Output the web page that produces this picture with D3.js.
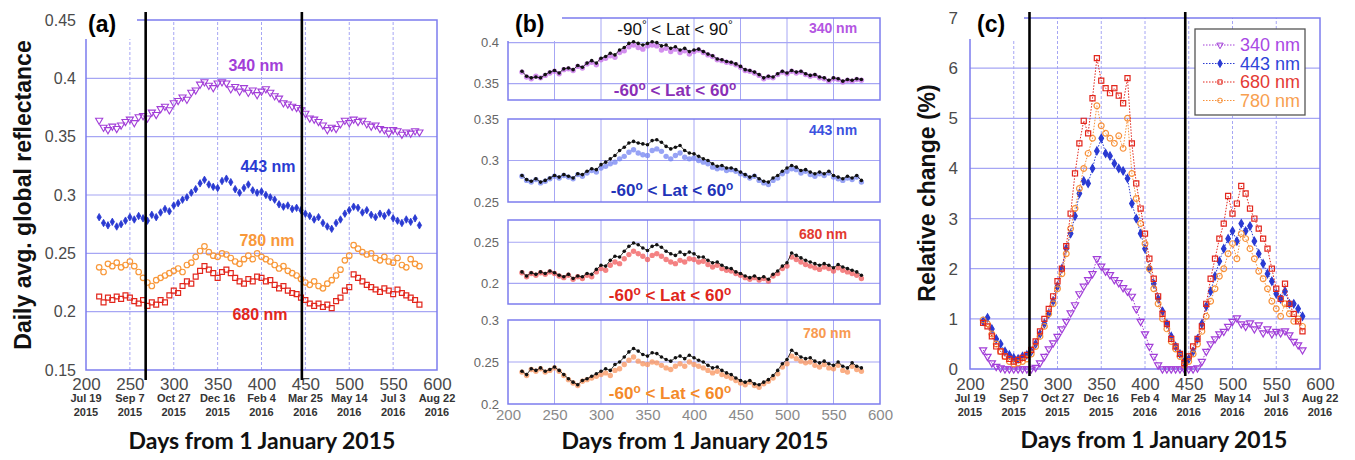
<!DOCTYPE html>
<html><head><meta charset="utf-8">
<script src="https://cdn.jsdelivr.net/npm/d3@7"></script>
<style>body{margin:0;background:#fff}svg{display:block}</style>
</head><body><svg id="c" width="1355" height="460"></svg>
<script>
// ---------------- DATA ----------------
const days = [215,220,225,230,235,240,245,250,255,260,265,270,275,280,285,290,295,300,305,310,315,320,325,330,335,340,345,350,355,360,365,370,375,380,385,390,395,400,405,410,415,420,425,430,435,440,445,450,455,460,465,470,475,480,485,490,495,500,505,510,515,520,525,530,535,540,545,550,555,560,565,570,575,580];

// Daily avg. global reflectance, -60 < Lat < 60
const refl340 = [0.364,0.358,0.356,0.359,0.357,0.360,0.363,0.365,0.362,0.367,
 0.368,0.366,0.371,0.369,0.374,0.376,0.373,0.379,0.381,0.384,
 0.382,0.388,0.390,0.395,0.397,0.394,0.392,0.396,0.397,0.396,
 0.391,0.393,0.389,0.392,0.388,0.390,0.386,0.389,0.391,0.388,
 0.385,0.383,0.379,0.378,0.376,0.375,0.373,0.370,0.366,0.365,
 0.363,0.360,0.356,0.358,0.357,0.361,0.364,0.362,0.365,0.363,
 0.364,0.361,0.359,0.360,0.357,0.356,0.353,0.356,0.355,0.352,
 0.354,0.353,0.355,0.354];
const refl443 = [0.281,0.276,0.274,0.277,0.273,0.275,0.278,0.281,0.279,0.282,
 0.280,0.278,0.283,0.281,0.285,0.288,0.286,0.291,0.293,0.296,
 0.298,0.302,0.305,0.310,0.313,0.309,0.307,0.306,0.312,0.314,
 0.311,0.305,0.302,0.306,0.309,0.304,0.302,0.303,0.300,0.298,
 0.296,0.292,0.290,0.291,0.288,0.289,0.287,0.284,0.282,0.279,
 0.281,0.276,0.273,0.271,0.276,0.279,0.284,0.287,0.290,0.289,
 0.285,0.287,0.283,0.281,0.284,0.282,0.285,0.280,0.278,0.276,
 0.279,0.277,0.280,0.274];
const refl680 = [0.213,0.208,0.212,0.210,0.213,0.211,0.214,0.212,0.209,0.207,
 0.210,0.205,0.208,0.206,0.210,0.208,0.214,0.218,0.216,0.222,
 0.226,0.224,0.230,0.235,0.239,0.236,0.233,0.229,0.234,0.236,
 0.233,0.229,0.226,0.224,0.228,0.226,0.230,0.229,0.226,0.227,
 0.223,0.220,0.222,0.218,0.216,0.215,0.212,0.210,0.207,0.205,
 0.207,0.204,0.206,0.203,0.209,0.212,0.218,0.221,0.232,0.229,
 0.226,0.223,0.221,0.219,0.217,0.220,0.218,0.215,0.219,0.216,
 0.214,0.212,0.210,0.206];
const refl780 = [0.238,0.234,0.241,0.239,0.242,0.238,0.240,0.243,0.239,0.234,
 0.229,0.225,0.222,0.227,0.229,0.231,0.233,0.235,0.237,0.234,
 0.240,0.242,0.247,0.252,0.256,0.251,0.248,0.247,0.250,0.249,
 0.246,0.243,0.241,0.245,0.248,0.245,0.250,0.247,0.245,0.243,
 0.240,0.237,0.239,0.235,0.233,0.231,0.228,0.225,0.223,0.226,
 0.222,0.220,0.224,0.227,0.231,0.236,0.244,0.248,0.257,0.254,
 0.251,0.249,0.250,0.246,0.244,0.247,0.243,0.242,0.246,0.240,
 0.238,0.245,0.241,0.239];

// Global (-90 < Lat < 90)
const glob340 = [0.365,0.359,0.357,0.358,0.357,0.361,0.364,0.366,0.363,0.368,
 0.369,0.367,0.372,0.370,0.375,0.378,0.375,0.381,0.383,0.387,
 0.385,0.391,0.394,0.399,0.401,0.399,0.397,0.399,0.401,0.400,
 0.396,0.397,0.393,0.395,0.391,0.393,0.389,0.391,0.392,0.389,
 0.386,0.384,0.380,0.379,0.377,0.376,0.374,0.371,0.367,0.366,
 0.364,0.361,0.357,0.359,0.358,0.362,0.365,0.363,0.366,0.364,
 0.365,0.362,0.360,0.361,0.358,0.357,0.354,0.357,0.356,0.353,
 0.355,0.354,0.356,0.355];
const glob443 = [0.282,0.277,0.275,0.278,0.274,0.276,0.279,0.282,0.280,0.283,
 0.281,0.279,0.284,0.283,0.287,0.290,0.289,0.295,0.298,0.302,
 0.306,0.312,0.316,0.321,0.323,0.321,0.320,0.319,0.324,0.325,
 0.322,0.317,0.314,0.316,0.318,0.312,0.309,0.308,0.305,0.302,
 0.300,0.296,0.293,0.294,0.291,0.291,0.289,0.286,0.283,0.280,
 0.282,0.278,0.275,0.274,0.279,0.282,0.287,0.291,0.294,0.292,
 0.288,0.289,0.286,0.284,0.286,0.284,0.287,0.282,0.280,0.278,
 0.281,0.279,0.282,0.276];
const glob680 = [0.214,0.209,0.213,0.211,0.214,0.212,0.215,0.213,0.210,0.208,
 0.211,0.206,0.209,0.208,0.212,0.211,0.217,0.222,0.221,0.228,
 0.233,0.232,0.239,0.245,0.249,0.247,0.243,0.240,0.245,0.247,
 0.244,0.239,0.236,0.234,0.238,0.235,0.238,0.236,0.232,0.232,
 0.228,0.225,0.226,0.222,0.219,0.218,0.214,0.212,0.209,0.207,
 0.209,0.206,0.208,0.205,0.211,0.215,0.221,0.225,0.237,0.234,
 0.231,0.228,0.226,0.224,0.222,0.224,0.222,0.219,0.223,0.220,
 0.218,0.216,0.214,0.210];
const glob780 = [0.239,0.235,0.242,0.240,0.243,0.239,0.241,0.244,0.240,0.235,
 0.230,0.226,0.223,0.228,0.230,0.233,0.236,0.239,0.242,0.240,
 0.247,0.250,0.256,0.262,0.266,0.263,0.259,0.257,0.261,0.260,
 0.256,0.253,0.251,0.255,0.257,0.254,0.258,0.255,0.252,0.250,
 0.246,0.243,0.244,0.240,0.237,0.235,0.231,0.228,0.226,0.228,
 0.224,0.223,0.226,0.229,0.234,0.240,0.248,0.253,0.264,0.260,
 0.256,0.254,0.255,0.251,0.249,0.251,0.248,0.246,0.250,0.245,
 0.243,0.249,0.245,0.243];

// Relative change (%)
const rel340 = [0.38,0.25,0.12,0.05,0.02,0.0,0.0,0.0,0.0,0.0,
 0.0,0.0,0.03,0.12,0.25,0.40,0.52,0.65,0.80,0.95,
 1.12,1.28,1.50,1.65,1.78,1.90,2.20,2.05,1.95,1.88,
 1.78,1.72,1.62,1.55,1.45,1.20,0.95,0.70,0.45,0.25,
 0.08,0.0,0.0,0.0,0.0,0.0,0.0,0.0,0.0,0.02,
 0.15,0.35,0.50,0.60,0.70,0.75,0.85,0.95,1.02,0.90,
 0.85,0.92,0.80,0.88,0.72,0.80,0.70,0.75,0.72,0.76,
 0.68,0.55,0.48,0.38];
const rel443 = [0.95,1.02,0.80,0.60,0.50,0.35,0.28,0.22,0.20,0.25,
 0.28,0.35,0.50,0.70,0.90,1.10,1.35,1.65,2.00,2.40,
 2.70,3.05,3.50,3.75,3.70,4.00,4.35,4.60,4.30,4.25,
 4.10,4.00,3.95,3.80,3.30,3.00,2.70,2.40,2.00,1.70,
 1.40,1.15,0.90,0.65,0.45,0.30,0.15,0.20,0.35,0.60,
 0.90,1.25,1.55,1.85,2.15,2.40,2.60,2.75,2.55,2.90,
 2.75,2.85,2.55,2.30,2.10,1.90,1.75,1.50,1.40,1.55,
 1.30,1.30,1.20,1.05];
const rel680 = [0.92,0.85,0.65,0.45,0.35,0.25,0.20,0.15,0.18,0.22,
 0.28,0.38,0.55,0.75,1.00,1.20,1.45,1.75,2.00,2.45,
 3.10,3.90,4.50,4.95,4.70,5.40,6.20,5.75,5.60,5.50,
 5.60,5.45,5.30,5.80,4.50,3.70,3.20,2.70,2.20,1.80,
 1.45,1.10,0.90,0.60,0.45,0.30,0.12,0.25,0.45,0.60,
 0.85,1.30,1.80,2.20,2.60,2.90,3.45,3.10,3.30,3.65,
 3.50,3.20,3.00,2.80,2.60,2.40,2.00,1.60,1.40,1.70,
 1.30,1.10,0.95,0.75];
const rel780 = [0.98,0.90,0.70,0.50,0.35,0.25,0.15,0.10,0.12,0.15,
 0.20,0.30,0.45,0.65,0.85,1.10,1.30,1.60,1.90,2.30,
 2.80,3.20,3.60,4.00,4.30,4.60,5.25,4.85,4.70,4.60,
 4.50,4.65,4.40,5.00,3.90,3.40,2.90,2.50,2.00,1.60,
 1.30,1.00,0.80,0.55,0.40,0.25,0.08,0.15,0.30,0.50,
 0.75,1.05,1.35,1.60,1.85,2.00,2.30,2.50,2.20,2.70,
 2.60,2.40,2.20,1.95,1.80,1.60,1.35,1.20,1.05,1.30,
 1.10,0.95,1.00,0.85];

const xTicks = [200,250,300,350,400,450,500,550,600];
const dateLabels = ['Jul 19','Sep 7','Oct 27','Dec 16','Feb 4','Mar 25','May 14','Jul 3','Aug 22'];
const yearLabels = ['2015','2015','2015','2015','2016','2016','2016','2016','2016'];
const yTicksA = [0.15,0.2,0.25,0.3,0.35,0.4,0.45];
const yTicksC = [0,1,2,3,4,5,6,7];
const eventDays = [268,446];
const wavelengths = ['340 nm','443 nm','680 nm','780 nm'];

// ---------------- DRAW ----------------
const svg = d3.select('#c');
svg.append('rect').attr('width',1355).attr('height',460).attr('fill','#fff');
const FRAME='#7c7cee', GRID='#a6a6f4';
const SANS='"Liberation Sans", Arial, sans-serif';
const TITLEF='Lato, "Open Sans", sans-serif';
const COL = {c340:'#a23ed8', c443:'#2a3ad2', c680:'#e2261c', c780:'#f8983a'};

const symGen = {
  tri: s=>d3.symbol().type(d3.symbolTriangle).size(s)(),
  diamond: s=>d3.symbol().type(d3.symbolDiamond).size(s)(),
  square: s=>d3.symbol().type(d3.symbolSquare).size(s)(),
  circle: s=>d3.symbol().type(d3.symbolCircle).size(s)()
};
function drawPoints(g, xs, ys, vals, sym, color, size, filled, sw){
  g.append('g').selectAll('path').data(vals.map((v,i)=>[days[i],v])).join('path')
   .attr('d', symGen[sym](size))
   .attr('transform', d=>`translate(${xs(d[0])},${ys(d[1])})${sym==='tri'?' rotate(180)':''}`)
   .attr('fill', filled? color : 'none')
   .attr('stroke', color).attr('stroke-width', sw||1);
}
function gridFrame(g, xs, ys, vTicks, hTicks, dashedV){
  const [x0,x1]=xs.range(), [y0,y1]=ys.range();
  g.append('g').selectAll('line').data(vTicks).join('line')
   .attr('x1',d=>xs(d)).attr('x2',d=>xs(d)).attr('y1',y0).attr('y2',y1)
   .attr('stroke',GRID).attr('stroke-width',1).attr('stroke-dasharray',dashedV?'3,2':null);
  g.append('g').selectAll('line').data(hTicks).join('line')
   .attr('x1',x0).attr('x2',x1).attr('y1',d=>ys(d)).attr('y2',d=>ys(d))
   .attr('stroke',GRID).attr('stroke-width',1.2);
  g.append('rect').attr('x',x0).attr('y',y1).attr('width',x1-x0).attr('height',y0-y1)
   .attr('fill','none').attr('stroke',FRAME).attr('stroke-width',1.5);
}
function yAxisLabels(g, ys, ticks, x, size, color){
  const ax = d3.axisLeft(ys).tickValues(ticks).tickFormat(d3.format('~g')).tickSize(0).tickPadding(0);
  const a = g.append('g').attr('transform',`translate(${x},0)`).call(ax);
  a.select('.domain').remove();
  a.selectAll('text').attr('font-family',SANS).attr('font-size',size).attr('fill',color);
}
function dateAxis(g, xs, yBase){
  const ax = d3.axisBottom(xs).tickValues(xTicks).tickFormat(d3.format('d')).tickSize(0).tickPadding(0);
  const a = g.append('g').attr('transform',`translate(0,${yBase})`).call(ax);
  a.select('.domain').remove();
  a.selectAll('text').attr('font-family',SANS).attr('font-size',17).attr('fill','#4a4a4a').attr('dy','0.9em');
  g.append('g').selectAll('text').data(xTicks).join('text')
   .attr('x',d=>xs(d)).attr('y',yBase+27).attr('text-anchor','middle')
   .attr('font-family',SANS).attr('font-weight','bold').attr('font-size',11).attr('fill','#333')
   .text((d,i)=>dateLabels[i]);
  g.append('g').selectAll('text').data(xTicks).join('text')
   .attr('x',d=>xs(d)).attr('y',yBase+41).attr('text-anchor','middle')
   .attr('font-family',SANS).attr('font-weight','bold').attr('font-size',11).attr('fill','#333')
   .text((d,i)=>yearLabels[i]);
}
function txt(g,x,y,s,opts){
  const t=g.append('text').attr('x',x).attr('y',y).attr('text-anchor',opts.anchor||'middle')
   .attr('font-family',opts.font||SANS).attr('font-size',opts.size||14)
   .attr('font-weight',opts.weight||'normal').attr('fill',opts.color||'#000').text(s);
  return t;
}
function latLabel(g,x,y,a,b,color,size,weight,degChar,sup){
  const t=g.append('text').attr('x',x).attr('y',y).attr('text-anchor','middle')
   .attr('font-family',SANS).attr('font-size',size).attr('font-weight',weight).attr('fill',color);
  t.append('tspan').text(a);
  t.append('tspan').attr('dy',-sup).attr('font-size',size*0.7).text(degChar);
  t.append('tspan').attr('dy',sup).text(' < Lat < '+b);
  t.append('tspan').attr('dy',-sup).attr('font-size',size*0.7).text(degChar);
}

// ===== Panel (a) =====
const gA = svg.append('g');
const xA = d3.scaleLinear().domain([200,600]).range([86,437]);
const yA = d3.scaleLinear().domain([0.15,0.45]).range([370,20]);
gridFrame(gA, xA, yA, xTicks.slice(1,-1), yTicksA.slice(1,-1), true);
drawPoints(gA,xA,yA,refl780,'circle',COL.c780,24,false,1.2);
drawPoints(gA,xA,yA,refl680,'square',COL.c680,24,false,1.2);
drawPoints(gA,xA,yA,refl443,'diamond',COL.c443,16,true,0.8);
drawPoints(gA,xA,yA,refl340,'tri',COL.c340,22,false,1.1);
gA.append('rect').attr('x',80).attr('y',8).attr('width',57).attr('height',31).attr('fill','#fff');
yAxisLabels(gA, yA, yTicksA, 76, 16, '#4a4a4a');
dateAxis(gA, xA, 375);
gA.selectAll(null).data(eventDays).join('line')
  .attr('x1',d=>xA(d)).attr('x2',d=>xA(d)).attr('y1',12).attr('y2',380)
  .attr('stroke','#000').attr('stroke-width',2.6);
txt(gA,88,32,'(a)',{anchor:'start',size:23,weight:'bold'});
txt(gA,256,71,wavelengths[0],{size:16,weight:'bold',color:COL.c340});
txt(gA,268,172,wavelengths[1],{size:16,weight:'bold',color:COL.c443});
txt(gA,267,246,wavelengths[3],{size:16,weight:'bold',color:COL.c780});
txt(gA,260,320,wavelengths[2],{size:16,weight:'bold',color:COL.c680});
gA.append('text').attr('transform','translate(31,195) rotate(-90)').attr('text-anchor','middle')
  .attr('font-family',SANS).attr('font-weight','bold').attr('font-size',23).attr('fill','#111')
  .text('Daily avg. global reflectance');
txt(gA,262,449,'Days from 1 January 2015',{size:23,weight:'bold',font:TITLEF,color:'#111'});

// ===== Panel (b) =====
const gB = svg.append('g');
const xB = d3.scaleLinear().domain([200,600]).range([508,880]);
const subs = [
  {glob:glob340, reg:refl340, dom:[0.33,0.43], rng:[100,18], ticks:[0.35,0.4], grid:[0.35,0.4], col:'#c46ae8', nmCol:'#b456e2', latCol:'#8a2fb6', nm:wavelengths[0], nmPos:[833,33], latPos:[675,96]},
  {glob:glob443, reg:refl443, dom:[0.25,0.35], rng:[202,119], ticks:[0.25,0.3,0.35], grid:[0.3], col:'#7484f2', nmCol:'#3c52e0', latCol:'#2233b8', nm:wavelengths[1], nmPos:[833,135], latPos:[672,196]},
  {glob:glob680, reg:refl680, dom:[0.175,0.277], rng:[304,220], ticks:[0.2,0.25], grid:[0.2,0.25], col:'#f0585a', nmCol:'#e23a30', latCol:'#e0261c', nm:wavelengths[2], nmPos:[823,239], latPos:[670,301]},
  {glob:glob780, reg:refl780, dom:[0.2,0.3], rng:[404,320], ticks:[0.2,0.25,0.3], grid:[0.25], col:'#f8935c', nmCol:'#f89a50', latCol:'#f48a2a', nm:wavelengths[3], nmPos:[827,338], latPos:[670,399]}
];
subs.forEach((s,k)=>{
  const ys = d3.scaleLinear().domain(s.dom).range(s.rng);
  gridFrame(gB, xB, ys, xTicks.slice(1,-1), s.grid, false);
  gB.append('g').selectAll('circle').data(s.reg).join('circle')
    .attr('cx',(d,i)=>xB(days[i])).attr('cy',d=>ys(d)).attr('r',2.7)
    .attr('fill',s.col).attr('fill-opacity',0.75);
  gB.append('path').datum(s.glob)
    .attr('d',d3.line().x((d,i)=>xB(days[i])).y(d=>ys(d)))
    .attr('fill','none').attr('stroke','#222').attr('stroke-width',0.9);
  gB.append('g').selectAll('circle').data(s.glob).join('circle')
    .attr('cx',(d,i)=>xB(days[i])).attr('cy',d=>ys(d)).attr('r',1.8).attr('fill','#111');
  if(k===0) gB.append('rect').attr('x',500).attr('y',8).attr('width',62).attr('height',33).attr('fill','#fff');
  yAxisLabels(gB, ys, s.ticks, 499, 13, '#666');
  txt(gB,s.nmPos[0],s.nmPos[1],s.nm,{size:14,weight:'bold',color:s.nmCol});
  latLabel(gB,s.latPos[0],s.latPos[1],'-60',60,s.latCol,17,'bold','o',6);
  if(k===3){
    const ax = d3.axisBottom(xB).tickValues(xTicks).tickFormat(d3.format('d')).tickSize(0).tickPadding(0);
    const a = gB.append('g').attr('transform','translate(0,408)').call(ax);
    a.select('.domain').remove();
    a.selectAll('text').attr('font-family',SANS).attr('font-size',15).attr('fill','#8a8a8a').attr('dy','0.8em');
  }
});
latLabel(gB,675,35,'-90',90,'#111',17,'normal','°',6);
txt(gB,515,32,'(b)',{anchor:'start',size:23,weight:'bold'});
txt(gB,695,449,'Days from 1 January 2015',{size:23,weight:'bold',font:TITLEF,color:'#111'});

// ===== Panel (c) =====
const gC = svg.append('g');
const xC = d3.scaleLinear().domain([200,600]).range([970,1320]);
const yC = d3.scaleLinear().domain([0,7]).range([369,18]);
gridFrame(gC, xC, yC, xTicks.slice(1,-1), yTicksC.slice(1,-1), true);
const seriesC = [
  {vals:rel340, sym:'tri', col:COL.c340, size:22, filled:false},
  {vals:rel443, sym:'diamond', col:COL.c443, size:18, filled:true},
  {vals:rel780, sym:'circle', col:'#f7913a', size:26, filled:false},
  {vals:rel680, sym:'square', col:COL.c680, size:26, filled:false}
];
seriesC.forEach(s=>{
  gC.append('path').datum(s.vals)
    .attr('d',d3.line().x((d,i)=>xC(days[i])).y(d=>yC(d)))
    .attr('fill','none').attr('stroke',s.col).attr('stroke-width',1).attr('stroke-dasharray','1.5,1.5');
  drawPoints(gC,xC,yC,s.vals,s.sym,s.col,s.size,s.filled,1.2);
});
gC.append('rect').attr('x',962).attr('y',8).attr('width',62).attr('height',31).attr('fill','#fff');
yAxisLabels(gC, yC, yTicksC, 958, 17, '#4a4a4a');
dateAxis(gC, xC, 375);
gC.selectAll(null).data(eventDays).join('line')
  .attr('x1',d=>xC(d)).attr('x2',d=>xC(d)).attr('y1',12).attr('y2',376)
  .attr('stroke','#000').attr('stroke-width',2.6);
txt(gC,977,32,'(c)',{anchor:'start',size:23,weight:'bold'});
gC.append('text').attr('transform','translate(935,193) rotate(-90)').attr('text-anchor','middle')
  .attr('font-family',SANS).attr('font-weight','bold').attr('font-size',23).attr('fill','#111')
  .text('Relative change (%)');
txt(gC,1154,448,'Days from 1 January 2015',{size:23,weight:'bold',font:TITLEF,color:'#111'});
// legend
const lg = gC.append('g');
lg.append('rect').attr('x',1195).attr('y',29).attr('width',110).attr('height',86)
  .attr('fill','#fff').attr('stroke','#555').attr('stroke-width',1.3);
const legItems = [
  {name:wavelengths[0], sym:'tri', col:COL.c340, txt:'#a848e4', filled:false},
  {name:wavelengths[1], sym:'diamond', col:COL.c443, txt:'#2f44d8', filled:true},
  {name:wavelengths[2], sym:'square', col:COL.c680, txt:'#e43a34', filled:false},
  {name:wavelengths[3], sym:'circle', col:'#f7913a', txt:'#f8a050', filled:false}
];
legItems.forEach((it,i)=>{
  const y = 45 + i*18.5;
  lg.append('line').attr('x1',1203).attr('x2',1236).attr('y1',y).attr('y2',y)
    .attr('stroke',it.col).attr('stroke-width',1).attr('stroke-dasharray','1.5,1.5');
  lg.append('path').attr('d',symGen[it.sym](18))
    .attr('transform',`translate(1220,${y})${it.sym==='tri'?' rotate(180)':''}`)
    .attr('fill',it.filled?it.col:'none').attr('stroke',it.col).attr('stroke-width',1);
  lg.append('text').attr('x',1240).attr('y',y+6).attr('font-family',SANS).attr('font-size',18)
    .attr('fill',it.txt).text(it.name);
});
</script></body></html>
